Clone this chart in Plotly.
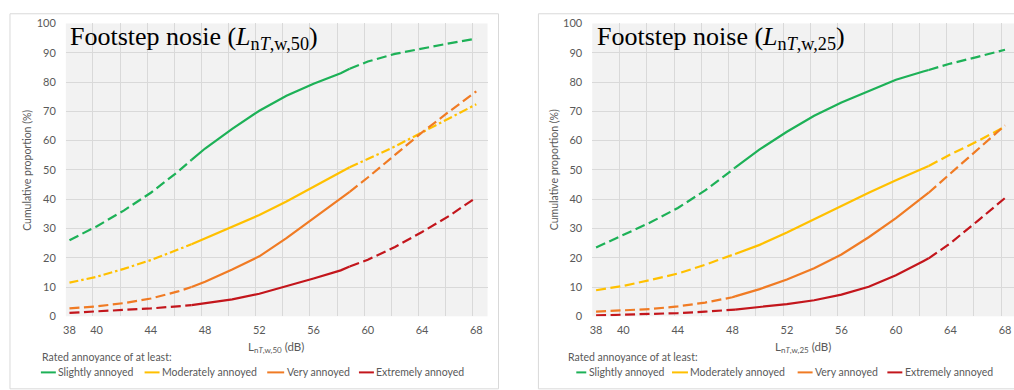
import plotly.graph_objects as go

W, H = 1014, 390

# ---------------- data ----------------
x_l = [38, 40, 42, 44, 46, 47, 48, 50, 52, 54, 56, 58, 58.66, 60, 62, 64, 66, 68]
slight_l = [26, 30.7, 36.1, 42.2, 49.4, 53.4, 57.3, 64, 70.2, 75.3, 79.4, 83, 84.5, 87, 89.6, 91.5, 93.2, 94.8]
moder_l = [11.5, 13.5, 16.2, 19.2, 22.8, 24.6, 26.6, 30.4, 34.6, 39.2, 44.1, 49.1, 50.9, 53.8, 58, 62.8, 67.5, 72.4]
very_l = [2.7, 3.4, 4.5, 6.1, 8.5, 10, 11.8, 16, 20.5, 26.7, 33.5, 40.3, 42.5, 47.4, 55.1, 62.8, 69.9, 76.8]
extr_l = [1.2, 1.6, 2.2, 2.7, 3.4, 3.8, 4.5, 5.8, 7.7, 10.2, 12.9, 15.7, 17, 19.3, 23.7, 28.8, 34.3, 40.6]
solid_l = (47, 58.66)

x_r = [38, 40, 42, 44, 46, 48, 48.2, 50, 52, 54, 56, 58, 60, 62, 62.4, 64, 66, 68]
slight_r = [23.5, 27.7, 32.1, 37, 43, 50, 50.8, 57, 63, 68.5, 73, 77, 80.8, 83.6, 84.1, 86.3, 88.6, 91]
moder_r = [8.9, 10.4, 12.4, 14.6, 17.6, 20.9, 21.3, 24.4, 28.6, 33.2, 37.8, 42.2, 46.5, 50.5, 51.3, 55.3, 59.8, 64.8]
very_r = [1.6, 2, 2.5, 3.4, 4.7, 6.5, 6.8, 9.3, 12.6, 16.4, 21.1, 27, 33.5, 40.8, 42.2, 48.7, 56.9, 65.2]
extr_r = [0.3, 0.5, 0.8, 1.1, 1.6, 2.2, 2.3, 3.1, 4.2, 5.5, 7.4, 10.1, 14, 18.8, 19.8, 25, 32.6, 40.4]
solid_r = (48.2, 62.4)

series_names = ["Slightly annoyed", "Moderately annoyed", "Very annoyed", "Extremely annoyed"]
colors = ["#1db157", "#ffc000", "#f07b24", "#c3161c"]
x_ticks = [38, 40, 44, 48, 52, 56, 60, 64, 68]
y_ticks = [0, 10, 20, 30, 40, 50, 60, 70, 80, 90, 100]

titles = ["Footstep nosie (<i>L</i><sub>n<i>T</i>,w,50</sub>)",
          "Footstep noise (<i>L</i><sub>n<i>T</i>,w,25</sub>)"]
xtitles = ["L<sub>n<i>T</i>,w,50</sub> (dB)", "L<sub>n<i>T</i>,w,25</sub> (dB)"]
ytitle = "Cumulative proportion (%)"
legend_title = "Rated annoyance of at least:"

# ---------------- layout helpers ----------------
def px(x):
    return x / W

def py(y):
    return 1 - y / H

GRAY = "#595959"
GRID = "#d9d9d9"
FONT = "Lato"
DASH = "10px,4.5px"
DASHDOT = "9px,3px,2.5px,3px"

fig = go.Figure()

panels = [
    dict(x=x_l, ys=[slight_l, moder_l, very_l, extr_l], solid=solid_l,
         dashes=[DASH, DASHDOT, DASH, DASH], xa="x", ya="y",
         dom=(63, 486), rng=(37.73, 68.83)),
    dict(x=x_r, ys=[slight_r, moder_r, very_r, extr_r], solid=solid_r,
         dashes=[DASH, DASH, DASH, DASH], xa="x2", ya="y2",
         dom=(591, 1014), rng=(37.72, 68.66)),
]

for p in panels:
    xs = p["x"]
    a, b = p["solid"]
    i0, i1 = xs.index(a), xs.index(b)
    for ys, col, dsh, nm in zip(p["ys"], colors, p["dashes"], series_names):
        segs = [(0, i0, dsh), (i0, i1, "solid"), (i1, len(xs) - 1, dsh)]
        for s, e, d in segs:
            fig.add_trace(go.Scatter(
                x=xs[s:e + 1], y=ys[s:e + 1], mode="lines", name=nm,
                line=dict(color=col, width=2.2, dash=d),
                xaxis=p["xa"], yaxis=p["ya"], showlegend=False, hoverinfo="skip"))

def xaxis_cfg(p):
    lo = p["rng"][0]
    return dict(domain=[px(p["dom"][0]), px(p["dom"][1])], range=list(p["rng"]),
                tickmode="array", tickvals=x_ticks, ticktext=[str(t) for t in x_ticks],
                showgrid=False, zeroline=False, showline=False, ticks="",
                tickfont=dict(family=FONT, size=11, color=GRAY), ticklabelstandoff=6,
                minor=dict(tickmode="linear", tick0=lo, dtick=2, showgrid=True,
                           gridcolor=GRID, gridwidth=1, ticks=""),
                fixedrange=True)

def yaxis_cfg(p, anchor):
    return dict(domain=[py(320), py(17)], range=[0, 100], anchor=anchor,
                tickmode="array", tickvals=y_ticks,
                showgrid=True, gridcolor=GRID, gridwidth=1, zeroline=False,
                showline=False, ticks="", ticklabelstandoff=9,
                tickfont=dict(family=FONT, size=11, color=GRAY), fixedrange=True)

fig.update_layout(
    width=W, height=H, margin=dict(l=0, r=0, t=0, b=0),
    paper_bgcolor="white", plot_bgcolor="#f2f2f2",
    xaxis=dict(**xaxis_cfg(panels[0]), anchor="y"),
    yaxis=yaxis_cfg(panels[0], "x"),
    xaxis2=dict(**xaxis_cfg(panels[1]), anchor="y2"),
    yaxis2=yaxis_cfg(panels[1], "x2"),
    showlegend=False,
)

shapes = []
annotations = []

# panel borders
for (x0, x1) in [(7, 497), (537, 1030)]:
    shapes.append(dict(type="rect", xref="paper", yref="paper",
                       x0=px(x0), x1=px(x1), y0=py(395), y1=py(7),
                       line=dict(color="#d9d9d9", width=1), fillcolor="rgba(0,0,0,0)",
                       layer="below"))

panel_meta = [
    dict(title_x=65, xt=274, rated_x=37, ytx=24,
         items=[(38, 53), (142, 157), (265, 282), (357, 372)]),
    dict(title_x=594, xt=802, rated_x=565, ytx=553,
         items=[(575, 585), (671, 687), (797, 812), (887, 902)]),
]

for k, m in enumerate(panel_meta):
    annotations.append(dict(xref="paper", yref="paper", x=px(m["title_x"]), y=py(13),
                            xanchor="left", yanchor="top", showarrow=False,
                            text=titles[k],
                            font=dict(family="Liberation Serif", size=26, color="black")))
    annotations.append(dict(xref="paper", yref="paper", x=px(m["ytx"]),
                            y=py(168.5), xanchor="center", yanchor="middle",
                            showarrow=False, textangle=-90, text=ytitle,
                            font=dict(family=FONT, size=10.5, color=GRAY)))
    annotations.append(dict(xref="paper", yref="paper", x=px(m["xt"]), y=py(352),
                            xanchor="center", yanchor="middle", showarrow=False,
                            text=xtitles[k], font=dict(family=FONT, size=11.5, color=GRAY)))
    annotations.append(dict(xref="paper", yref="paper", x=px(m["rated_x"]), y=py(362),
                            xanchor="left", yanchor="middle", showarrow=False,
                            text=legend_title, font=dict(family=FONT, size=10.5, color=GRAY)))
    for (l0, l1), col, nm in zip(m["items"], colors, series_names):
        shapes.append(dict(type="line", xref="paper", yref="paper",
                           x0=px(l0), x1=px(l1), y0=py(378), y1=py(378),
                           line=dict(color=col, width=2)))
        annotations.append(dict(xref="paper", yref="paper", x=px(l1 + 0.5), y=py(378),
                                xanchor="left", yanchor="middle", showarrow=False,
                                text=nm, font=dict(family=FONT, size=10.5, color=GRAY)))

fig.update_layout(shapes=shapes, annotations=annotations)

fig.write_html("out.html", config={"displayModeBar": False},
               post_script="document.body.style.margin='0';document.body.style.overflow='hidden';")
